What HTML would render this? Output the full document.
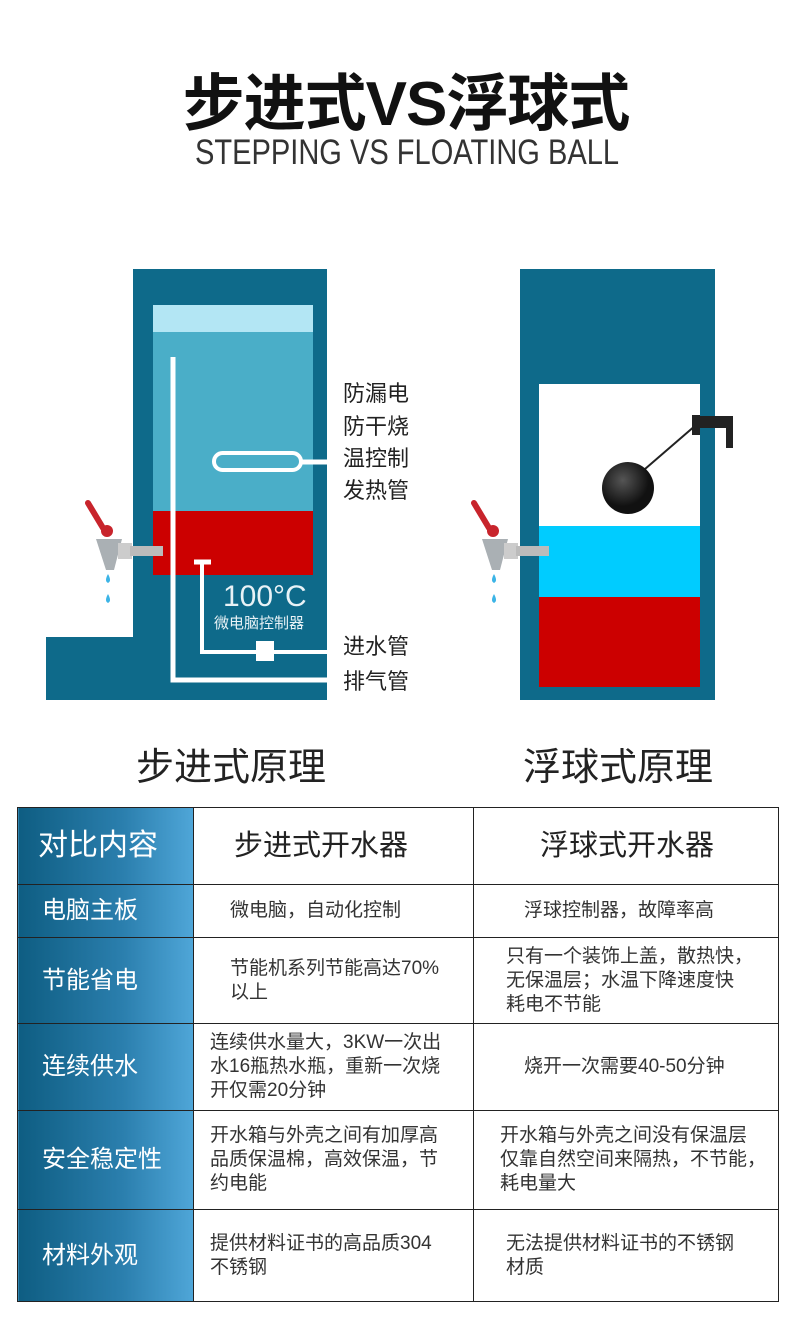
<!DOCTYPE html>
<html><head><meta charset="utf-8"><style>
*{margin:0;padding:0;box-sizing:border-box}
body{width:790px;height:1317px;background:#fff;position:relative;overflow:hidden;font-family:"Liberation Sans","Noto Sans CJK SC",sans-serif;color:#222}
.a{position:absolute}
.t{position:absolute;white-space:nowrap}
.lbl{font-size:22px;color:#222;line-height:32px}
table{position:absolute;left:17px;top:807px;width:762px;border-collapse:collapse}
td{border:1.5px solid #222;font-size:19px;color:#333;line-height:24px;vertical-align:middle}
td.h{background:linear-gradient(90deg,#0e5d82,#2b7fae 60%,#4fa6d8);color:#fff;font-size:24px;padding-left:24px;border-color:#222}
</style></head><body>
<div class="t" style="left:0;width:812px;text-align:center;top:53px;font-size:62px;font-weight:bold;color:#111;letter-spacing:-1px">步进式VS浮球式</div>
<div class="t" style="left:195px;top:133px;font-size:35px;color:#333;transform:scaleX(0.83);transform-origin:left top">STEPPING VS FLOATING BALL</div>

<svg class="a" style="left:0;top:0" width="790" height="790">
<rect x="133" y="269" width="194" height="431" fill="#0e6a8a"/>
<rect x="46" y="637" width="100" height="63" fill="#0e6a8a"/>
<rect x="153" y="305" width="160" height="27" fill="#b3e6f4"/>
<rect x="153" y="332" width="160" height="179" fill="#4aaec8"/>
<rect x="153" y="511" width="160" height="64" fill="#cc0000"/>
<polyline points="173,357 173,680 327,680" fill="none" stroke="#fff" stroke-width="5"/>
<rect x="214" y="453" width="87" height="17" rx="8.5" fill="none" stroke="#fff" stroke-width="4"/>
<line x1="301" y1="462" x2="327" y2="462" stroke="#fff" stroke-width="5"/>
<line x1="194" y1="562" x2="211" y2="562" stroke="#fff" stroke-width="5"/>
<polyline points="202,562 202,652 327,652" fill="none" stroke="#fff" stroke-width="4"/>
<rect x="256" y="641" width="18" height="20" fill="#fff"/>
<text x="223" y="606" font-size="30" fill="#e8f2f6" font-family="Liberation Sans">100°C</text>
<text x="214" y="628" font-size="15" fill="#e8f2f6" font-family="Liberation Sans,Noto Sans CJK SC">微电脑控制器</text>
<g id="f">
<line x1="88" y1="503" x2="103" y2="528" stroke="#c8242c" stroke-width="6" stroke-linecap="round"/>
<circle cx="107" cy="531" r="6" fill="#c8242c"/>
<polygon points="96,539 122,539 114,570 106,570" fill="#aab0b4"/>
<rect x="118" y="543" width="14" height="16" fill="#ccc"/>
<rect x="130" y="546" width="33" height="10" fill="#bbb"/>
<path d="M108,574 q-4,7 0,9 q4,-2 0,-9z" fill="#3cb4e6"/>
<path d="M108,594 q-4,7 0,9 q4,-2 0,-9z" fill="#3cb4e6"/>
</g>
<rect x="520" y="269" width="195" height="431" fill="#0e6a8a"/>
<rect x="539" y="384" width="161" height="142" fill="#fff"/>
<rect x="539" y="526" width="161" height="71" fill="#00ccff"/>
<rect x="539" y="597" width="161" height="90" fill="#cc0000"/>
<line x1="645" y1="469" x2="696" y2="425" stroke="#222" stroke-width="2"/>
<defs><radialGradient id="g" cx="0.4" cy="0.35"><stop offset="0" stop-color="#555"/><stop offset="1" stop-color="#111"/></radialGradient></defs>
<circle cx="628" cy="488" r="26" fill="url(#g)"/>
<rect x="692" y="415" width="8" height="20" fill="#222"/>
<rect x="697" y="416" width="36" height="12" fill="#222"/>
<rect x="726" y="416" width="7" height="32" fill="#222"/>
<use href="#f" x="386" y="0"/>
</svg>

<div class="t lbl" style="left:343px;top:378px">防漏电</div>
<div class="t lbl" style="left:343px;top:411px">防干烧</div>
<div class="t lbl" style="left:343px;top:443px">温控制</div>
<div class="t lbl" style="left:343px;top:475px">发热管</div>
<div class="t lbl" style="left:343px;top:631px">进水管</div>
<div class="t lbl" style="left:343px;top:666px">排气管</div>

<div class="t" style="left:136px;top:736px;font-size:38px;color:#222">步进式原理</div>
<div class="t" style="left:523px;top:736px;font-size:38px;color:#222">浮球式原理</div>

<table>
<tr style="height:77px"><td class="h" style="width:176px;font-size:30px;padding-left:20px">对比内容</td><td style="width:280px;font-size:29px;color:#222;padding-left:40px">步进式开水器</td><td style="font-size:29px;color:#222;padding-left:66px">浮球式开水器</td></tr>
<tr style="height:53px"><td class="h">电脑主板</td><td style="padding-left:36px">微电脑，自动化控制</td><td style="padding-left:50px">浮球控制器，故障率高</td></tr>
<tr style="height:86px"><td class="h">节能省电</td><td style="padding-left:36px">节能机系列节能高达70%<br>以上</td><td style="padding-left:32px">只有一个装饰上盖，散热快，<br>无保温层；水温下降速度快<br>耗电不节能</td></tr>
<tr style="height:87px"><td class="h">连续供水</td><td style="padding-left:16px">连续供水量大，3KW一次出<br>水16瓶热水瓶，重新一次烧<br>开仅需20分钟</td><td style="padding-left:50px">烧开一次需要40-50分钟</td></tr>
<tr style="height:99px"><td class="h">安全稳定性</td><td style="padding-left:16px">开水箱与外壳之间有加厚高<br>品质保温棉，高效保温，节<br>约电能</td><td style="padding-left:26px">开水箱与外壳之间没有保温层<br>仅靠自然空间来隔热，不节能，<br>耗电量大</td></tr>
<tr style="height:92px"><td class="h">材料外观</td><td style="padding-left:16px">提供材料证书的高品质304<br>不锈钢</td><td style="padding-left:32px">无法提供材料证书的不锈钢<br>材质</td></tr>
</table>
</body></html>
